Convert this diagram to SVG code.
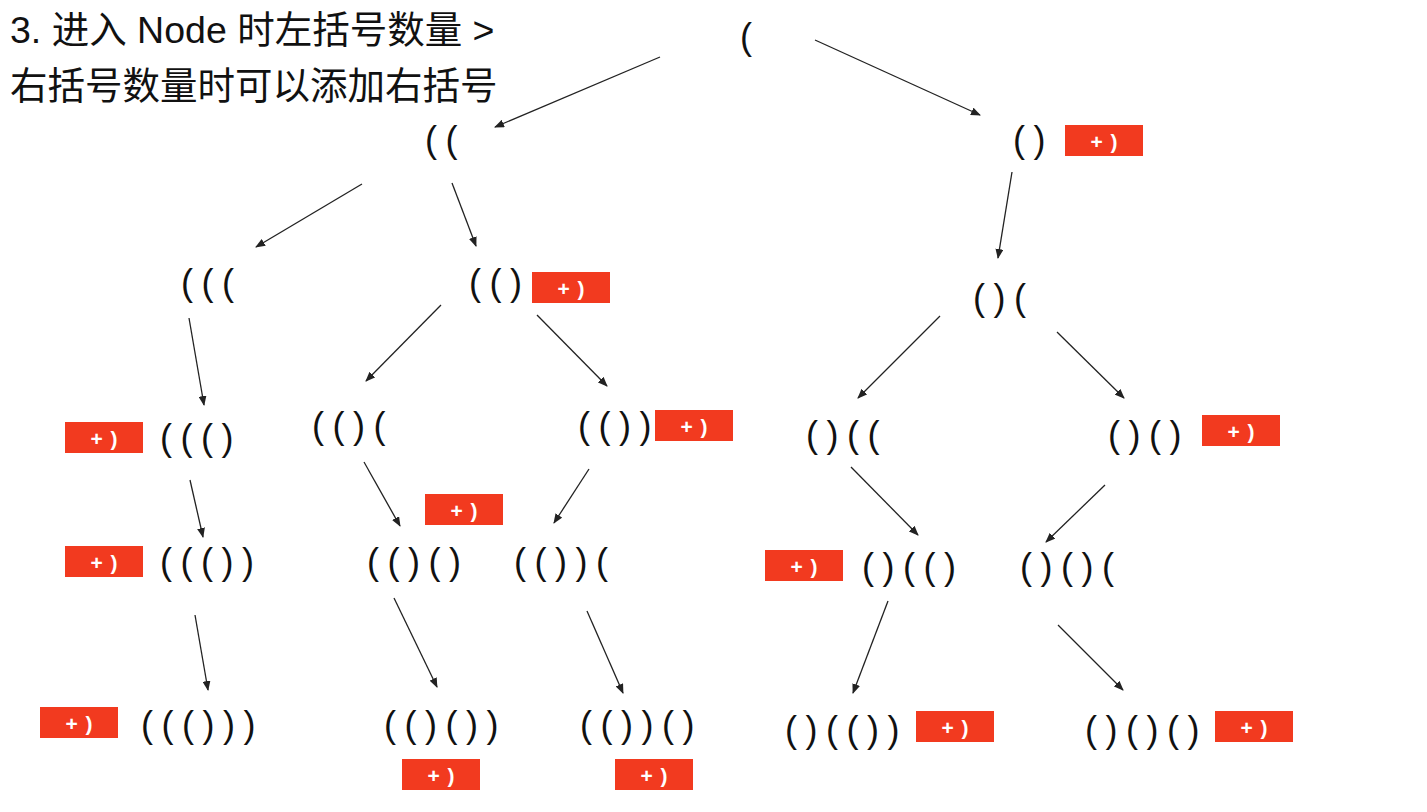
<svg xmlns="http://www.w3.org/2000/svg" width="1427" height="812" viewBox="0 0 1427 812">
<style>
.t{font-family:"Liberation Sans","Noto Sans CJK SC",sans-serif;font-size:37.5px;fill:#111}
.p{font-family:"Liberation Sans",sans-serif;font-size:36px;fill:#111;letter-spacing:8.5px}
.b{fill:#f23a1f}
.bt{font-family:"Liberation Sans",sans-serif;font-size:21px;font-weight:bold;fill:#fff;text-anchor:middle;letter-spacing:1px}
.c{stroke:#222;stroke-width:1.3;fill:none;marker-end:url(#ah)}
</style>
<defs>
<marker id="ah" markerWidth="10" markerHeight="8" refX="9" refY="4" orient="auto" markerUnits="userSpaceOnUse">
<path d="M0,0 L10,4 L0,8 Z" fill="#222"/>
</marker>
<g id="plus"><rect class="b" x="0" y="0" width="78" height="31"/><text class="bt" x="39.5" y="24">+ )</text></g>
</defs>
<rect width="1427" height="812" fill="#fff"/>
<g id="title">
<text class="t" x="10" y="43">3. 进入 Node 时左括号数量 &gt;</text>
<text class="t" x="10" y="99">右括号数量时可以添加右括号</text>
</g>
<g id="connectors">
<line class="c" x1="660" y1="57" x2="495" y2="127"/>
<line class="c" x1="815" y1="40" x2="980" y2="115"/>
<line class="c" x1="362" y1="184" x2="256" y2="247"/>
<line class="c" x1="452" y1="183" x2="476" y2="246"/>
<line class="c" x1="1012" y1="172" x2="998" y2="258"/>
<line class="c" x1="189" y1="318" x2="204" y2="405"/>
<line class="c" x1="441" y1="305" x2="366" y2="381"/>
<line class="c" x1="537" y1="315" x2="607" y2="386"/>
<line class="c" x1="940" y1="316" x2="858" y2="398"/>
<line class="c" x1="1057" y1="332" x2="1124" y2="398"/>
<line class="c" x1="190" y1="480" x2="203" y2="537"/>
<line class="c" x1="364" y1="462" x2="400" y2="526"/>
<line class="c" x1="589" y1="469" x2="554" y2="523"/>
<line class="c" x1="851" y1="467" x2="918" y2="535"/>
<line class="c" x1="1105" y1="485" x2="1046" y2="542"/>
<line class="c" x1="195" y1="615" x2="208" y2="690"/>
<line class="c" x1="394" y1="598" x2="437" y2="687"/>
<line class="c" x1="587" y1="611" x2="623" y2="693"/>
<line class="c" x1="888" y1="601" x2="853" y2="693"/>
<line class="c" x1="1058" y1="625" x2="1123" y2="690"/>
</g>
<g id="n1"><text class="p" x="740" y="49">(</text></g>
<g id="n2"><text class="p" x="425" y="152">((</text></g>
<g id="n3"><text class="p" x="1013" y="152">()</text><use href="#plus" x="1065" y="125"/></g>
<g id="n4"><text class="p" x="181" y="295">(((</text></g>
<g id="n5"><text class="p" x="469" y="295">(()</text><use href="#plus" x="532" y="272"/></g>
<g id="n6"><text class="p" x="973" y="310">()(</text></g>
<g id="n7"><use href="#plus" x="65" y="422"/><text class="p" x="160" y="450">((()</text></g>
<g id="n8"><text class="p" x="312" y="438">(()(</text></g>
<g id="n9"><text class="p" x="578" y="438">(())</text><use href="#plus" x="655" y="410"/></g>
<g id="n10"><text class="p" x="806" y="447">()((</text></g>
<g id="n11"><text class="p" x="1108" y="447">()()</text><use href="#plus" x="1202" y="415"/></g>
<g id="n12"><use href="#plus" x="65" y="546"/><text class="p" x="160" y="574">((())</text></g>
<g id="n13"><use href="#plus" x="425" y="494"/><text class="p" x="367" y="574">(()()</text></g>
<g id="n14"><text class="p" x="514" y="574">(())(</text></g>
<g id="n15"><use href="#plus" x="765" y="550"/><text class="p" x="862" y="579">()(()</text></g>
<g id="n16"><text class="p" x="1020" y="579">()()(</text></g>
<g id="n17"><use href="#plus" x="40" y="707"/><text class="p" x="141" y="737">((()))</text></g>
<g id="n18"><text class="p" x="384" y="737">(()())</text><use href="#plus" x="402" y="759"/></g>
<g id="n19"><text class="p" x="580" y="737">(())()</text><use href="#plus" x="615" y="759"/></g>
<g id="n20"><text class="p" x="785" y="742">()(())</text><use href="#plus" x="916" y="711"/></g>
<g id="n21"><text class="p" x="1085" y="742">()()()</text><use href="#plus" x="1215" y="711"/></g>
</svg>
